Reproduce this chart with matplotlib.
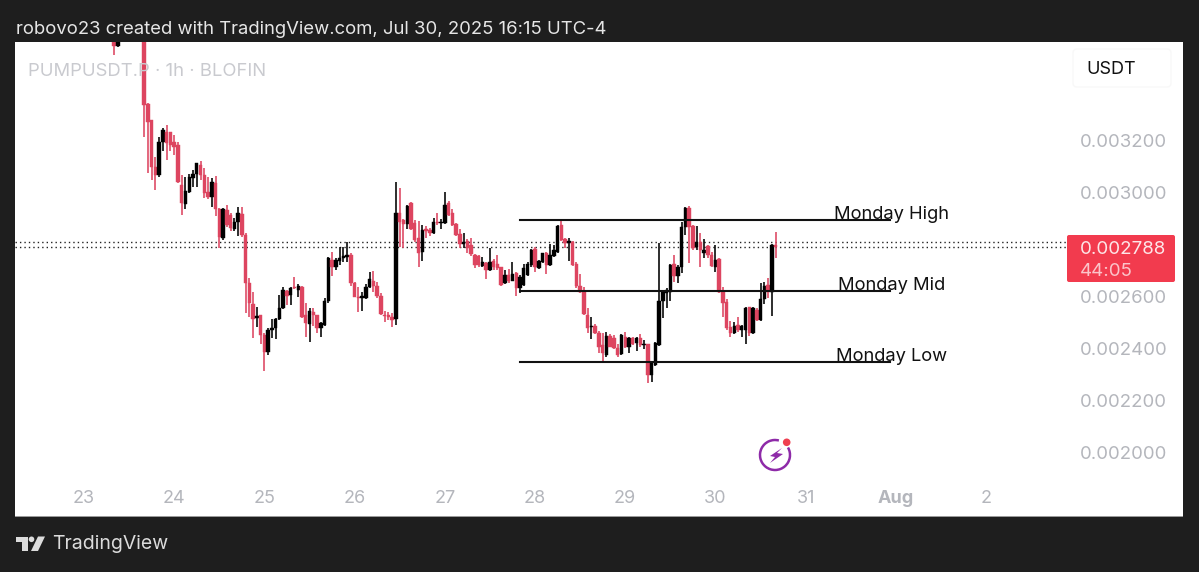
import matplotlib
matplotlib.use("Agg")
import numpy as np
import matplotlib.pyplot as plt
from matplotlib.patches import Arc, Circle, FancyBboxPatch, Polygon, Rectangle

# prices are in millionths of a USDT, hours counted from Jul 23 00:00
hours = [8, 9] + list(range(16, 185))
opens = [3579, 3562,
    3640, 3339, 3277, 3098, 3066, 3194, 3232, 3230, 3194, 3181, 3027, 2954, 3002, 3053, 3070, 3104,
    3066, 3002, 2980, 3036, 2934, 2822, 2931, 2912, 2857, 2886, 2916, 2835, 2649, 2570, 2514, 2526,
    2450, 2386, 2470, 2476, 2511, 2553, 2621, 2604, 2636, 2623, 2636, 2527, 2493, 2540, 2527, 2476,
    2489, 2579, 2739, 2711, 2736, 2745, 2752, 2758, 2652, 2598, 2591, 2591, 2636, 2659, 2639, 2600,
    2527, 2527, 2521, 2511,
    2921, 2893, 2877, 2957, 2880, 2822, 2771, 2857, 2854, 2841, 2886, 2880, 2880, 2957, 2918, 2876,
    2839, 2800, 2813, 2797, 2759, 2754, 2716, 2726, 2700, 2736, 2723, 2711, 2649, 2681, 2659, 2690,
    2630, 2643, 2681, 2720, 2782, 2707, 2729, 2767, 2720, 2754, 2771, 2873, 2820, 2805, 2809, 2723,
    2639, 2621,
    2527, 2480, 2485, 2459, 2412, 2373, 2448, 2438, 2399, 2377, 2444, 2403, 2440, 2421, 2440, 2411,
    2414, 2296, 2335, 2412, 2579, 2611, 2617, 2723, 2677, 2711, 2867, 2937, 2870, 2790, 2809, 2767,
    2793, 2758, 2713, 2741, 2617, 2578, 2482, 2459, 2489, 2470, 2470, 2557, 2457, 2546, 2508, 2587,
    2643, 2617, 2796]
highs = [3590, 3590,
    3660, 3344, 3277, 3136, 3211, 3245, 3256, 3232, 3220, 3194, 3066, 3057, 3068, 3085, 3113, 3121,
    3091, 3059, 3053, 3063, 2938, 2938, 2950, 2918, 2899, 2941, 2944, 2841, 2668, 2617, 2559, 2527,
    2457, 2476, 2511, 2514, 2604, 2634, 2623, 2634, 2675, 2647, 2639, 2572, 2553, 2553, 2527, 2502,
    2591, 2752, 2771, 2745, 2788, 2790, 2809, 2765, 2655, 2636, 2617, 2647, 2694, 2698, 2655, 2611,
    2544, 2540, 2534, 3040,
    3014, 2895, 2950, 2961, 2893, 2890, 2873, 2870, 2861, 2899, 2918, 2895, 2999, 2967, 2934, 2880,
    2857, 2844, 2818, 2822, 2762, 2758, 2752, 2729, 2784, 2741, 2758, 2713, 2700, 2703, 2729, 2694,
    2680, 2723, 2732, 2782, 2788, 2739, 2767, 2771, 2800, 2797, 2873, 2893, 2822, 2822, 2813, 2729,
    2685, 2634,
    2553, 2521, 2491, 2467, 2457, 2463, 2454, 2450, 2416, 2454, 2463, 2444, 2444, 2444, 2454, 2431,
    2416, 2344, 2422, 2805, 2623, 2630, 2723, 2758, 2720, 2886, 2941, 2946, 2873, 2870, 2841, 2818,
    2796, 2771, 2796, 2745, 2636, 2587, 2505, 2502, 2518, 2489, 2557, 2559, 2557, 2553, 2649, 2655,
    2668, 2800, 2845]
lows = [3527, 3557,
    3213, 3072, 3047, 3008, 3059, 3156, 3123, 3156, 3143, 3034, 2912, 2934, 2998, 3021, 3021, 3047,
    2976, 2972, 2944, 2906, 2784, 2816, 2867, 2852, 2852, 2829, 2826, 2534, 2521, 2438, 2482, 2416,
    2313, 2373, 2438, 2434, 2508, 2550, 2566, 2566, 2626, 2598, 2514, 2444, 2425, 2485, 2459, 2441,
    2485, 2575, 2677, 2700, 2720, 2729, 2732, 2639, 2595, 2540, 2544, 2588, 2630, 2617, 2591, 2527,
    2502, 2506, 2482, 2489,
    2788, 2784, 2857, 2854, 2809, 2713, 2736, 2822, 2829, 2839, 2873, 2859, 2877, 2906, 2870, 2829,
    2784, 2784, 2764, 2754, 2707, 2711, 2713, 2664, 2698, 2700, 2700, 2639, 2647, 2652, 2656, 2600,
    2613, 2640, 2677, 2711, 2694, 2703, 2726, 2685, 2716, 2749, 2764, 2813, 2784, 2736, 2716, 2630,
    2613, 2527,
    2459, 2434, 2454, 2380, 2348, 2367, 2403, 2395, 2364, 2375, 2399, 2380, 2412, 2389, 2405, 2395,
    2264, 2271, 2329, 2409, 2514, 2553, 2579, 2655, 2652, 2688, 2835, 2726, 2777, 2777, 2711, 2745,
    2745, 2711, 2694, 2611, 2521, 2470, 2444, 2454, 2463, 2441, 2416, 2448, 2454, 2505, 2505, 2570,
    2591, 2523, 2748]
closes = [3562, 3579,
    3335, 3271, 3098, 3066, 3194, 3239, 3188, 3181, 3175, 3040, 2957, 3005, 3057, 3070, 3111, 3066,
    2998, 2980, 3040, 2934, 2826, 2934, 2873, 2861, 2886, 2918, 2835, 2649, 2572, 2511, 2523, 2450,
    2386, 2470, 2476, 2513, 2553, 2623, 2600, 2630, 2630, 2639, 2518, 2495, 2544, 2527, 2476, 2498,
    2579, 2745, 2713, 2739, 2745, 2754, 2758, 2649, 2598, 2591, 2600, 2636, 2665, 2639, 2600, 2531,
    2523, 2521, 2508, 2918,
    2886, 2877, 2948, 2857, 2816, 2767, 2854, 2852, 2841, 2886, 2880, 2886, 2950, 2912, 2873, 2835,
    2800, 2809, 2784, 2762, 2720, 2720, 2732, 2700, 2732, 2713, 2707, 2643, 2681, 2656, 2685, 2630,
    2675, 2707, 2722, 2777, 2713, 2736, 2764, 2720, 2758, 2777, 2871, 2816, 2803, 2813, 2720, 2639,
    2617, 2531,
    2476, 2485, 2457, 2405, 2380, 2448, 2405, 2399, 2373, 2450, 2403, 2438, 2416, 2438, 2412, 2416,
    2296, 2341, 2418, 2579, 2617, 2623, 2720, 2677, 2711, 2867, 2937, 2867, 2784, 2809, 2777, 2777,
    2758, 2716, 2739, 2617, 2572, 2476, 2457, 2485, 2470, 2485, 2553, 2457, 2553, 2508, 2587, 2639,
    2617, 2796, 2788]

price_ticks = [0.0032, 0.0030, 0.0026, 0.0024, 0.0022, 0.0020]
day_ticks = [0, 24, 48, 72, 96, 120, 144, 168, 192, 216, 240]
day_labels = ['23', '24', '25', '26', '27', '28', '29', '30', '31', 'Aug', '2']
level_names = ['Monday High', 'Monday Mid', 'Monday Low']
level_prices = [0.002892, 0.002619, 0.002346]
level_start, level_end = 116, 214.5
dotted_prices = [0.002808, 0.002788]

BG = '#1e1e1e'
RED = '#dd4560'
GREY = '#b4b6bc'
FONT = 'Inter'
plt.rcParams['font.family'] = [FONT, 'DejaVu Sans']

fig = plt.figure(figsize=(11.99, 5.72), dpi=100, facecolor=BG)
W, H = 1199, 572
x0, x1, y0, y1 = 15, 1183, 42, 516
ax = fig.add_axes([x0/W, 1-y1/H, (x1-x0)/W, (y1-y0)/H], facecolor='white')
ax.set_xlim(-18.36, 292.4)
ax.set_ylim(0.001754, 0.003577)
for s in ax.spines.values():
    s.set_visible(False)

o = np.array(opens)*1e-6
h = np.array(highs)*1e-6
l = np.array(lows)*1e-6
c = np.array(closes)*1e-6
t = np.array(hours)
colors = ['black' if b >= a else RED for a, b in zip(o, c)]
ax.vlines(t, l, h, colors=colors, linewidth=1.15, zorder=3)
ax.bar(t, np.abs(c-o), bottom=np.minimum(o, c), width=0.92, color=colors, linewidth=0.3,
       edgecolor=colors, zorder=3)

# the dotted price lines stop at the price label
for p in dotted_prices:
    ax.hlines(p, -18.36, 261.6, color='#222222', linewidth=1.0, linestyles=(0, (1, 2.2)), zorder=2)
for name, p in zip(level_names, level_prices):
    ax.plot([level_start, level_end], [p, p], color='#111111', linewidth=1.5, zorder=4)
    ax.annotate(name, (level_end, p), xytext=(1, 6), textcoords='offset pixels', ha='center', va='center',
                fontsize=13.2, color='#111111', zorder=5)

ax.yaxis.tick_right()
ax.set_yticks(price_ticks, ['%.6f' % p for p in price_ticks])
ax.tick_params(axis='y', length=0, pad=-74, labelsize=13.4, labelcolor=GREY)
ax.set_xticks(day_ticks, day_labels)
ax.tick_params(axis='x', length=0, pad=-19, labelsize=13, labelcolor=GREY)
ax.get_xticklabels()[9].set_fontweight('bold')

# everything else sits on a sheet measured in picture pixels
ov = fig.add_axes([0, 0, 1, 1], facecolor='none')
ov.set_xlim(0, W)
ov.set_ylim(H, 0)
ov.axis('off')

ov.text(16, 29, 'robovo23 created with TradingView.com, Jul 30, 2025 16:15 UTC-4', color='#e6e6e6',
        fontsize=13.3, va='center')
ov.text(28, 71, 'PUMPUSDT.P · 1h · BLOFIN', color='#c9cacf', fontsize=13.3, va='center')
ov.text(52, 544, 'TradingView', color='#dcdcdc', fontsize=14, va='center')

ov.add_patch(FancyBboxPatch((1073, 49), 98, 38, boxstyle='round,pad=0,rounding_size=4',
                            fc='white', ec='#f8f8f8', lw=1))
ov.text(1086, 70, 'USDT', color='#111111', fontsize=13, va='center')

ov.add_patch(FancyBboxPatch((1067, 235), 108, 47, boxstyle='round,pad=0,rounding_size=2',
                            fc='#f23b4e', ec='none'))
ov.text(1080, 249, '0.002788', color='#fde6e8', fontsize=13.5, va='center')
ov.text(1080, 271, '44:05', color='#fbc4ca', fontsize=13.5, va='center')

# TradingView logo
logo = '#dcdcdc'
ov.add_patch(Polygon([(16, 536.5), (28, 536.5), (28, 551), (22, 551), (22, 542), (16, 542)], fc=logo, ec='none'))
ov.add_patch(Circle((31.5, 539.3), 2.8, fc=logo, ec='none'))
ov.add_patch(Polygon([(38, 536.5), (45, 536.5), (38, 551), (31, 551)], fc=logo, ec='none'))

# lightning badge
purple = '#8e2aa8'
ov.add_patch(Arc((775, 455), 30, 30, theta1=-30, theta2=285, color=purple, lw=1.8))
ov.add_patch(Polygon([(782, 448), (770, 456), (775, 457), (770, 463), (783, 454), (777, 453)],
                     fc=purple, ec='none'))
ov.add_patch(Circle((786.7, 442.3), 3.8, fc='#ef3f50', ec='none'))

ov.add_patch(Rectangle((x0, y1-0.5), x1-x0, 1.2, fc='#9a9a9a', ec='none'))

fig.savefig('out.png', dpi=100, facecolor=BG)
